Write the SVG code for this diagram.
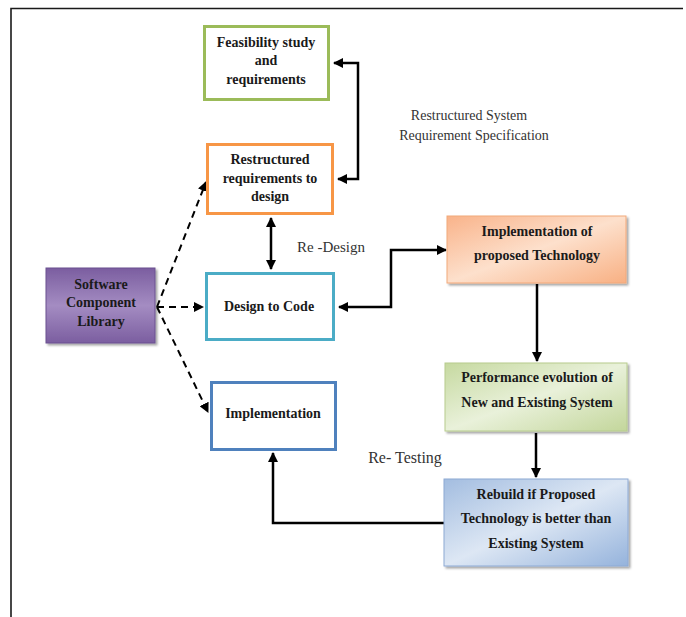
<svg xmlns="http://www.w3.org/2000/svg" width="686" height="617" viewBox="0 0 686 617">
<style>
.lbl{font-family:"Liberation Serif","Times New Roman",serif;font-weight:bold;font-size:14px;fill:#1a1a1a;text-anchor:middle}
.txt{font-family:"Liberation Serif","Times New Roman",serif;font-size:14px;fill:#333;text-anchor:middle}
.box{fill:#fff;stroke-width:3}
.con{fill:none;stroke:#000;stroke-width:2.5}
.dash{fill:none;stroke:#000;stroke-width:2;stroke-dasharray:7 5}
</style>
<defs>
<marker id="ah" viewBox="0 0 10 10" refX="9" refY="5" markerWidth="4" markerHeight="4" orient="auto-start-reverse" markerUnits="strokeWidth">
<path d="M0,0 L10,5 L0,10 z" fill="#000"/>
</marker>
<marker id="ahd" viewBox="0 0 10 10" refX="9" refY="5" markerWidth="5" markerHeight="5" orient="auto" markerUnits="strokeWidth">
<path d="M0,0 L10,5 L0,10 z" fill="#000"/>
</marker>
<linearGradient id="gPurple" x1="0" y1="0" x2="0" y2="1">
<stop offset="0" stop-color="#7b5ea0"/>
<stop offset="0.5" stop-color="#a48cc2"/>
<stop offset="1" stop-color="#7b5ea0"/>
</linearGradient>
<linearGradient id="gOrange" x1="0" y1="0" x2="1" y2="1">
<stop offset="0" stop-color="#f9b38a"/>
<stop offset="0.5" stop-color="#fde0cc"/>
<stop offset="1" stop-color="#f8b083"/>
</linearGradient>
<linearGradient id="gGreen" x1="0" y1="0" x2="1" y2="1">
<stop offset="0" stop-color="#c6d9a0"/>
<stop offset="0.5" stop-color="#e9f1da"/>
<stop offset="1" stop-color="#c3d69b"/>
</linearGradient>
<linearGradient id="gBlue" x1="0" y1="0" x2="1" y2="1">
<stop offset="0" stop-color="#a3bde0"/>
<stop offset="0.5" stop-color="#dde7f4"/>
<stop offset="1" stop-color="#95b3dc"/>
</linearGradient>
<filter id="sh" x="-10%" y="-10%" width="125%" height="125%">
<feDropShadow dx="2" dy="2" stdDeviation="1" flood-color="#000" flood-opacity="0.35"/>
</filter>
</defs>
<rect width="686" height="617" fill="#fff"/>
<path d="M11,617 V8.5 H683" fill="none" stroke="#1a1a1a" stroke-width="1.6"/>

<g id="connectors">
<path class="con" d="M334,63 H358 V179 H338" marker-start="url(#ah)" marker-end="url(#ah)"/>
<path class="con" d="M271,218 V269" marker-start="url(#ah)" marker-end="url(#ah)"/>
<path class="con" d="M339,307 H391 V250 H446" marker-start="url(#ah)" marker-end="url(#ah)"/>
<path class="con" d="M537,284 V361" marker-end="url(#ah)"/>
<path class="con" d="M536,433 V477" marker-end="url(#ah)"/>
<path class="con" d="M444,523 H273 V453" marker-end="url(#ah)"/>
<path class="dash" d="M157,307 L206,182" marker-end="url(#ahd)"/>
<path class="dash" d="M157,307 H203" marker-end="url(#ahd)"/>
<path class="dash" d="M157,307 L208,412" marker-end="url(#ahd)"/>
<text class="txt" x="331" y="252" style="font-size:15px">Re -Design</text>
<text class="txt" x="405" y="463" style="font-size:16px">Re- Testing</text>
<text class="txt" x="469" y="120">Restructured System</text>
<text class="txt" x="474" y="140">Requirement Specification</text>
</g>

<g id="feasibility">
<rect class="box" x="204.5" y="26.5" width="124" height="73" stroke="#9bbb59"/>
<text class="lbl" x="266" y="47">Feasibility study</text>
<text class="lbl" x="266" y="65">and</text>
<text class="lbl" x="266" y="84">requirements</text>
</g>

<g id="restructured">
<rect class="box" x="207.5" y="144.5" width="125" height="69" stroke="#f79646"/>
<text class="lbl" x="270" y="164">Restructured</text>
<text class="lbl" x="270" y="183">requirements to</text>
<text class="lbl" x="270" y="201">design</text>
</g>

<g id="design-to-code">
<rect class="box" x="206.5" y="273.5" width="127" height="66" stroke="#4bacc6"/>
<text class="lbl" x="269" y="311">Design to Code</text>
</g>

<g id="implementation">
<rect class="box" x="211.5" y="382.5" width="124" height="67" stroke="#4f81bd"/>
<text class="lbl" x="273" y="418">Implementation</text>
</g>

<g id="software-library">
<rect x="46" y="268" width="109" height="75" fill="url(#gPurple)" stroke="#6a5190" stroke-width="1" filter="url(#sh)"/>
<text class="lbl" x="101" y="289">Software</text>
<text class="lbl" x="101" y="307">Component</text>
<text class="lbl" x="101" y="326">Library</text>
</g>

<g id="impl-proposed">
<rect x="447" y="216" width="179" height="67" fill="url(#gOrange)" stroke="#f2a97a" stroke-width="1" filter="url(#sh)"/>
<text class="lbl" x="537" y="236">Implementation of</text>
<text class="lbl" x="537" y="260">proposed Technology</text>
</g>

<g id="performance">
<rect x="445" y="363" width="182" height="68" fill="url(#gGreen)" stroke="#b7cc8e" stroke-width="1" filter="url(#sh)"/>
<text class="lbl" x="537" y="382">Performance evolution of</text>
<text class="lbl" x="537" y="407">New and Existing System</text>
</g>

<g id="rebuild">
<rect x="444" y="479" width="184" height="87" fill="url(#gBlue)" stroke="#8eaad4" stroke-width="1" filter="url(#sh)"/>
<text class="lbl" x="536" y="499">Rebuild if Proposed</text>
<text class="lbl" x="536" y="523">Technology is better than</text>
<text class="lbl" x="536" y="548">Existing System</text>
</g>
</svg>
